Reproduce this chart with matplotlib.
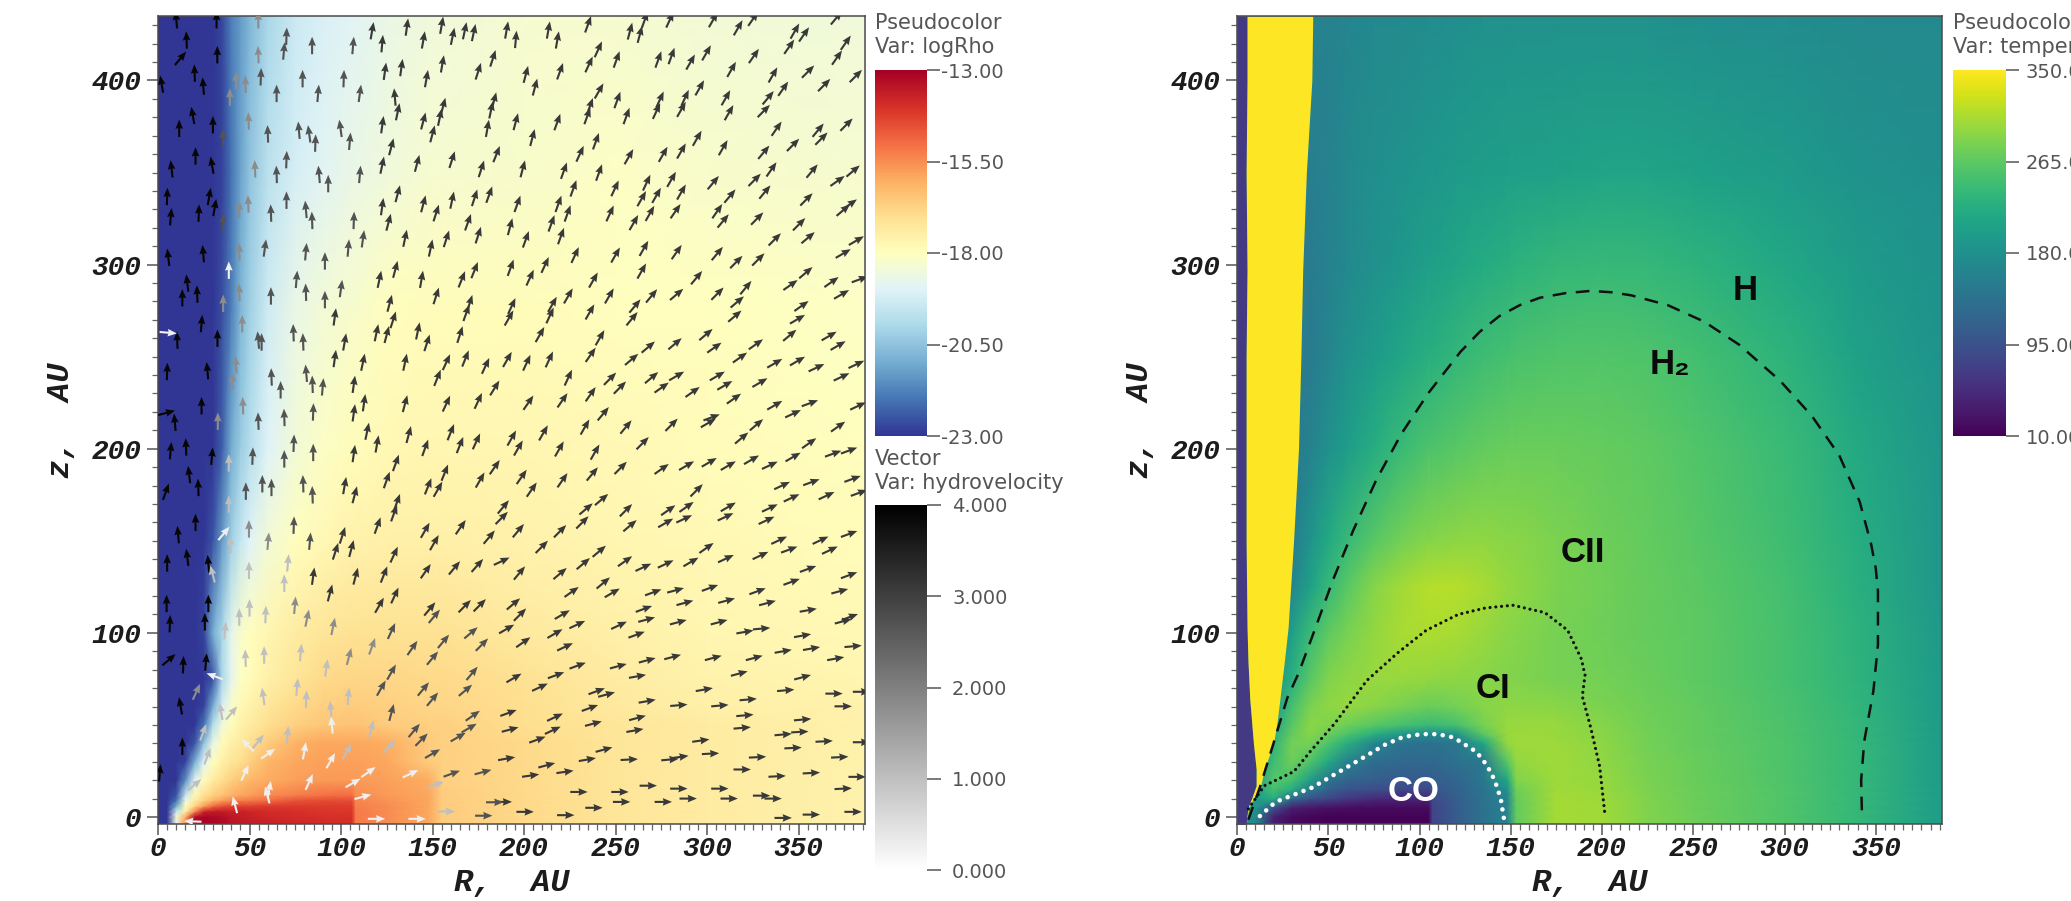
import numpy as np
import matplotlib
matplotlib.use("Agg")
import matplotlib.pyplot as plt
from matplotlib.cm import ScalarMappable
from matplotlib.colors import Normalize
from matplotlib.ticker import MultipleLocator

# ---------- density panel data ----------
rho_R = [0,5,10,15,20,25,30,35,40,45,50,60,75,90,106,108,125,148,155,200,250,300,386]
rho_z = [-4,0,3,6,9,12,20,30,40,50,60,75,100,150,200,275,350,435]
logRho = [
 [-23,-23,-19,-15.5,-13.2,-13.1,-13.1,-13.2,-13.4,-13.5,-13.6,-13.7,-13.8,-13.9,-14,-15.2,-15.5,-15.9,-16.6,-16.9,-17.2,-17.4,-17.6],
 [-23,-23,-18.3,-16,-13.3,-13.1,-13.2,-13.3,-13.5,-13.6,-13.7,-13.8,-13.9,-14,-14,-15.2,-15.5,-15.9,-16.6,-16.9,-17.2,-17.4,-17.6],
 [-23,-23,-19.5,-17.5,-15.5,-13.8,-13.6,-13.6,-13.7,-13.7,-13.8,-13.9,-14,-14.1,-14.1,-15.2,-15.5,-15.9,-16.6,-16.9,-17.2,-17.4,-17.6],
 [-23,-23,-21,-18,-16.8,-15.8,-15,-14.6,-14.4,-14.3,-14.3,-14.2,-14.2,-14.2,-14.2,-15.3,-15.5,-15.9,-16.6,-16.9,-17.2,-17.4,-17.6],
 [-23,-23,-22,-18.6,-17.4,-16.7,-16.2,-15.8,-15.5,-15.3,-15.2,-15,-14.6,-14.5,-14.5,-15.4,-15.6,-15.9,-16.6,-16.9,-17.2,-17.4,-17.6],
 [-23,-23,-22.5,-19.5,-17.8,-17.1,-16.7,-16.4,-16.1,-15.9,-15.8,-15.5,-15.3,-15.1,-15,-15.5,-15.7,-15.9,-16.6,-16.9,-17.2,-17.4,-17.6],
 [-23,-23,-23,-21.5,-19,-17.9,-17.4,-17,-16.7,-16.4,-16.2,-16,-15.8,-15.7,-15.7,-15.7,-15.8,-16,-16.7,-16.9,-17.2,-17.4,-17.6],
 [-23,-23,-23,-22.8,-21,-19,-18,-17.5,-17.2,-17,-16.7,-16.2,-15.9,-15.8,-15.8,-15.8,-15.9,-16.6,-16.7,-16.9,-17.2,-17.4,-17.6],
 [-23,-23,-23,-23,-22.5,-20.5,-18.7,-17.9,-17.5,-17.3,-17,-16.6,-16.1,-15.9,-15.9,-15.9,-16,-16.6,-16.7,-16.9,-17.2,-17.4,-17.6],
 [-23,-23,-23,-23,-23,-22,-19.8,-18.5,-17.9,-17.6,-17.4,-17,-16.7,-16.5,-16.4,-16.4,-16.6,-16.7,-16.7,-17,-17.2,-17.4,-17.6],
 [-23,-23,-23,-23,-23,-22.8,-21,-19.2,-18.2,-17.8,-17.6,-17.2,-16.9,-16.7,-16.6,-16.6,-16.7,-16.8,-16.8,-17,-17.3,-17.5,-17.6],
 [-23,-23,-23,-23,-23,-23,-22.5,-20,-18.8,-18.1,-17.9,-17.5,-17.2,-16.9,-16.8,-16.8,-16.8,-16.9,-16.9,-17.1,-17.4,-17.6,-17.7],
 [-23,-23,-23,-23,-23,-22.8,-21,-20,-18.8,-18.2,-18,-17.7,-17.4,-17.2,-17.1,-17.1,-17.1,-17.1,-17.1,-17.3,-17.5,-17.7,-17.8],
 [-23,-23,-23,-23,-23,-23,-22.5,-21.3,-20.2,-19.5,-19,-18.4,-18,-17.8,-17.6,-17.6,-17.5,-17.5,-17.5,-17.6,-17.7,-17.8,-17.9],
 [-23,-23,-23,-23,-23,-23,-23,-22.3,-21,-20.3,-19.8,-19,-18.4,-18.1,-17.9,-17.9,-17.8,-17.7,-17.7,-17.7,-17.8,-17.9,-18],
 [-23,-23,-23,-23,-23,-23,-23,-22.6,-21.8,-20.8,-20.2,-19.3,-18.7,-18.4,-18.2,-18.2,-18,-17.9,-17.9,-17.9,-18,-18,-18.1],
 [-23,-23,-23,-23,-23,-23,-23,-22.8,-22,-21.2,-20.5,-19.7,-19.2,-18.9,-18.7,-18.7,-18.5,-18.3,-18.3,-18.2,-18.1,-18.2,-18.3],
 [-23,-23,-23,-23,-23,-23,-23,-22.7,-21.8,-21.3,-20.8,-20,-19.4,-19.1,-18.9,-18.9,-18.7,-18.5,-18.5,-18.3,-18.3,-18.4,-18.5],
]

# velocity arrows: (R, z, direction in degrees), grouped by speed
arrows_black = [
 (10,433,95),(15.6,422,92),(12.3,412,50),(32.4,414,90),(20,404,92),(24.7,397,95),(2,398,100),(19,381,100),(11.6,374,90),(30,376,90),
 (20.5,359,90),(7.4,352,97),(29.5,354,100),(5,337,88),(28,337,80),(31,331,80),(7,326,85),(22.3,328,88),(5.6,304,97),(24.7,306,95),
 (16,290,97),(21.4,284,92),(13.3,282,90),(32,433,90),(23.8,268,85),(32.5,260,90),(10.5,259,92),(5,242,88),(27,242.4,95),(23.8,223.4,90),
 (9.2,214.4,95),(4.7,219.5,15),(6.9,199,85),(15.3,201,92),(29.5,196,85),(17,186,97),(22,179,92),(4.3,176.6,70),(20.5,160,90),(11,153.4,95),
 (16,141,97),(5,138,90),(27.5,137.6,95),(4.7,116,90),(27.5,116,90),(25.6,106,90),(6.5,105,88),(6,85.4,40),(13.8,82.7,88),(26.2,84.2,85),
 (12.3,60.4,100),(13.3,38.4,90),(1,24,85),
]
arrows_dark = [
 (117,427,80),(136,429,82),(155,430,80),(167.6,427,78),(161,424,78),(172.5,426,78),(145,422,80),(122.5,420,85),(124,405,82),(133,407,82),
 (146.7,401,80),(155.4,409,80),(175,405,72),(183,412,72),(129.4,391,95),(131,383,78),(122.6,376,82),(145,378,75),(183.6,389,75),(182,384,78),
 (155.8,386,75),(154,380,78),(150,371,75),(180,374,80),(127.5,364,75),(122.5,354,78),(141.6,355,75),(160.7,357,72),(176.7,352,72),(185,360,68),
 (131,338.5,75),(122.5,331.5,82),(145,333,75),(152,328,72),(160.7,335,78),(173,336.3,72),(181,338,70),(126,323,75),(169.4,323,70),(175,316,72),
 (135,314.3,78),(149,309,78),(157.6,314,72),(121,292,78),(129.7,297.4,75),(144,292,80),(166,292,68),(173,297,68),(152,283,72),(126.6,279,75),
 (170.3,279,72),(96.6,271.6,82),(128.5,270,72),(125,262,75),(119.4,263,78),(142,264,78),(147,257.5,72),(102,258,80),(96.6,249,82),(112,247,78),
 (135,247,78),(107,235,82),(157.6,247,65),(152.7,238.5,68),(168,249,68),(179,245,65),(168.5,273.8,70),(165,262,72),(184,233,58),(175,226,65),
 (157.6,224.5,65),(135,224.5,75),(112.6,225,82),(107,219.5,82),(114.3,209.5,78),(119.7,202.6,80),(137,207.7,75),(160,209,68),(165,202,68),(174,204,65),
 (146,200.5,70),(107,197.4,82),(130,192.3,70),(125,183,70),(102,180,80),(107.5,175,75),(147.6,179.6,68),(156.7,187,68),(153,178,60),(176,183,60),
 (184,190,55),(130.6,171,70),(129,165,70),(120,158.3,70),(146,155.7,60),(151,149,60),(165.4,157.4,55),(181,152,50),(100.8,153,72),(97,144.3,72),
 (105.7,145.8,75),(129,142.5,65),(123.5,131.7,68),(108,130.8,75),(84.8,130.8,82),(146.3,133.5,55),(162,135.3,50),(174.5,136.6,48),(94,121.7,75),(129.4,120.3,65),
 (121,115,60),(148.5,113,50),(167.6,114.5,45),(175.8,115,45),
 (190.5,427.4,80),(195.5,422.3,85),(213.3,427.4,80),(218.2,422,80),(235,430.5,70),(257.9,426.8,75),(263.3,425,75),(266,433,70),(279.7,433,65),(303.4,433,60),
 (317,428.6,60),(325.2,433.5,55),(348,426.8,60),(353,425,55),(370.7,434,50),(344.9,418.3,55),(375.8,420.5,55),(371,412.4,55),(240.6,416.9,65),(235.5,408.7,65),
 (250.6,411.4,70),(273.4,411.4,70),(280.6,413.3,70),(291,410,60),(299.7,415,60),(313.4,406,60),(325.6,413.3,55),(201,403.3,75),(206,396.4,75),(219.7,405,70),
 (336,403,60),(355.2,404.8,45),(364,397.5,45),(381.3,402.4,45),(241,394.3,60),(236,386,70),(251,389.4,70),(274.3,389.7,65),(288,390.6,65),(296,396,60),
 (310.3,390.6,60),(333.4,390.6,50),(341.6,395.5,55),(234.6,380.7,70),(195.5,377.6,75),(218.2,377.4,70),(256,380.7,70),(272.4,383.4,65),(286,384.3,60),(312,382.5,60),
 (331,383.4,45),(204.6,369,75),(239.3,367,70),(230.6,360.2,65),(257.3,358.6,60),(276,359.9,60),(286,361.7,60),(294.6,368.6,60),(338,373.8,55),(360.7,373,50),
 (362.5,368.4,45),(376.2,376,45),(347,365,45),(331,361,50),(308.8,363.5,60),(199.3,352,75),(221.8,351,70),(241,350,70),(249.7,341.4,65),(227,341.4,70),
 (267,344.5,65),(280.6,346.3,60),(272.4,337.6,60),(264.3,335.8,60),(286,339.4,60),(303.4,344.5,50),(326,346,45),(335.2,351.7,55),(357.4,350.8,50),(371.3,345.4,35),
 (379.8,350.8,40),(312.5,337.2,50),(331.6,339.4,50),(354.3,335.4,45),(196.4,333,70),(218.8,333,70),(223.8,327.8,70),(215,322.4,70),(192.4,320.6,75),(247,327.8,65),
 (268.8,327.8,60),(282.8,329,55),(260,322.8,60),(305.6,329,55),(308.8,323.7,50),(327.4,325,45),(374.4,329.5,40),(378,332.7,35),(350.3,321.9,45),(355.2,314.6,40),
 (337,313.7,45),(220.2,315.5,70),(201,313.7,70),(227.9,305.2,65),(250,305.2,60),(265.5,308.8,60),(283.4,306.8,55),(305.6,306,50),(316,301.4,45),(328,302.8,45),
 (374.4,306,30),(381.6,313,30),(192.7,298.3,70),(203.3,292.9,65),(211.5,299.8,65),(264.3,296.5,60),(237.9,291.6,60),(294.3,292.9,50),(321.2,287.5,50),(354,295.6,40),
 (345.6,288.9,35),(368,290.5,35),(383.5,292,20),(373.5,283.8,30),(283.4,283.8,40),(269.7,283,50),(305.7,284.2,45),(246.6,283,60),(224.2,283,60),(260.6,277.5,50),
 (215.5,278.4,60),(193.3,277.5,65),(191.8,271,60),(214.2,272.4,65),(236,274.3,60),(259,270.6,50),(316.5,279.7,40),(315.2,272,40),(351.6,277.5,35),(349.4,270.3,30),
 (208.7,262,60),(241.5,260.3,60),(299.4,262,40),(236.4,251,55),(345.2,261.6,40),(366.7,261.2,30),(371.6,256,30),(282.5,257,40),(304,254.9,35),(267.9,255.2,40),
 (258.8,248.5,40),(318,249.5,35),(326.7,256.7,35),(190.9,248.5,60),(201.5,246.7,65),(213.8,248.5,65),(337,246.4,30),(349.4,247.6,30),(359.8,244,25),(381.6,245.8,25),
 (373.5,239,25),(224.2,238.6,65),(247,238,45),(252.4,233.2,45),(269.7,238.6,40),(275.2,233.2,35),(283.4,239.5,30),(305.6,239.5,30),(309.7,234.4,30),(292.1,230.8,35),
 (328.9,235.9,30),(202.4,225,55),(221,226.3,55),(236.4,229.6,55),(314.7,227.2,35),(337,223.6,30),(356.2,224.7,20),(382.5,223.2,25),(347,219,25),(243.3,219,50),
 (302.5,217,20),
 (193.3,205.8,60),(196.9,200.4,60),(210.6,208.6,60),(233.3,211.8,60),(255.7,211.8,50),(280.6,213,45),(300.7,214,30),(327,213,40),(318.9,205.8,40),(371.6,212,35),
 (264.8,203,45),(219.3,199.9,60),(238.8,198.2,60),(355.8,203,35),(347,195.5,30),(334.3,191,25),(324.3,194,30),(311.6,190.8,30),(301.2,192.6,30),(288.8,190.8,30),
 (275.2,189,35),(252.8,189.6,45),(237.3,186.3,50),(221,182.9,55),(198.7,184.7,55),(204.2,177.8,55),(368.9,197.3,20),(377.6,199,20),(379.5,183.6,20),(357,181.8,20),
 (341,180,25),(346.2,173.3,25),(365.3,174.5,25),(383,176,20),(294.3,177.4,45),(242.4,172.4,40),(233.9,167.3,40),(255.7,166.6,45),(278.8,166.6,35),(288.8,168.4,35),
 (311.6,168.4,30),(334.3,167.8,25),(188.7,168.4,50),(187.8,162.4,45),(231.9,160,45),(257.9,158.2,40),(277.4,159.7,30),(287.5,161.9,25),(310.1,163,25),(332.5,161.1,25),
 (196.9,155.5,50),(219.7,155.2,45),(209.7,146.7,45),(339.4,150.3,25),(362,150.3,25),(377.6,153.7,20),(344.9,145.2,20),(367.1,144.9,25),(299.7,146.1,35),(241.1,144.3,40),
 (232.4,137.6,40),(255.2,138.9,35),(265.2,135.6,25),(277.4,137.4,25),(291.2,138.5,30),(310.3,140.3,25),(329.2,142,25),(187.8,138.9,25),(197.5,132.5,50),(219.7,132.2,40),
 (355.2,134.7,20),(346.2,127.7,20),(377.6,131.3,20),(372.5,122.6,15),(243.3,127.1,40),(226,122.2,35),(248.2,121.7,30),(270.6,122,20),(282.8,123.1,15),(301.6,124.4,20),
 (327.6,122.6,20),(310.7,117.5,15),(333,116.2,15),(287.9,116.3,15),(265.5,113,20),(194.2,115.7,40),(197.8,109.9,45),(220.9,109.9,30),(355.3,112.3,10),(378,108.6,20),
 (374.4,106.3,15),(267,107.2,15),(229.1,104.5,25),(216.9,99.6,30),(251.9,104.1,25),(284.3,105.8,15),(306.6,105.8,15),(320.7,100.5,10),(329.8,102.3,5),(190.5,102.1,30),
 (261.5,99,20),(222.4,92.4,25),(199.6,94.9,35),(352.2,98.5,10),(379.8,92.7,5),(357.1,91.5,10),(341.6,90,10),(370.3,86,10),(325.8,86.4,15),(303.4,86.4,15),
 (281.2,86.9,15),(267.3,85.1,15),(251.5,81.9,15),(229.3,82.2,20),(217.5,77,20),(194.5,75.5,30),(262,76.4,10),(317.6,77.9,15),(352.2,75.9,15),(208.7,70.5,25),
 (298.5,69.2,10),(343,68.8,5),(369.4,67,0),(384.4,68,0),(239.7,68.3,20),(245.1,66.5,15),(267.3,62.9,10),(284.6,60.7,5),(307,60.5,5),(322.5,63.8,5),
 (374.4,60.1,0),(236,59.2,20),(191.5,56.5,20),(216.9,54.2,25),(262,53.8,15),(320.7,55.2,5),(352.2,52.9,5),(192.4,47.5,15),(237.9,50.7,15),(260.6,47,10),
 (215.7,47.1,25),(207.3,42,20),(319.2,48.4,5),(341.6,44.8,5),(350.7,46.2,3),(296.6,41.5,8),(364,41.1,3),(384.4,40.6,0),(347,37.5,3),(243.7,36.6,15),
 (234.6,31.2,10),(190.5,31.7,10),(257.5,31.2,3),(279.7,31.2,5),(285.2,32.6,8),(301.9,34.4,3),(327.6,32.5,3),(372.5,32.5,3),(212.4,28.1,15),(222.4,24.5,8),
 (203.6,22.5,8),(319.2,25.8,0),(338.3,22.1,3),(357,23.9,3),(382,21.8,0),(267.9,17,0),(230,13.6,0),(252.4,13.6,0),(284.6,15.4,0),(307,15.4,0),
 (329.8,11.6,0),(336.1,10,0),(374.4,15.4,3),(253.3,8.2,0),(276.1,8.2,0),(289.7,10,0),(312.1,10,0),(188.7,8.2,0),(200.6,2.8,0),(222.8,1,0),
 (238.2,5,0),(341.6,-0.5,0),(357,1.3,0),(379.8,2.8,0),
]
arrows_middark = [
 (35.6,369,90),(35.6,323,90),(70.2,424,88),(68.8,416,85),(84.2,419,90),(106.6,419,85),(56.2,402,88),(64.8,393,90),(79,401,90),(101.5,401,88),
 (87.5,393,85),(110.3,393,82),(60,371,92),(77,373,95),(82.6,371,98),(86,366,88),(99.7,374,98),(104.8,367,85),(70.2,357,88),(64.8,349,92),
 (88,349,95),(93,344,90),(110.3,349,85),(70.2,335,90),(61.7,328,92),(80.8,330,95),(84.2,324,92),(107,324,88),(58.4,309,82),(80.8,307,85),
 (91.2,302,90),(104,309,85),(112,314,82),(75.7,292,85),(80.8,285,92),(100,287,82),(91.2,281,90),(61.7,283,90),
 (54.8,259,95),(56.6,258,90),(74,263,92),(79.3,258,92),(62,239,92),(67,232,90),(81,241,95),(84.4,235,92),(90,233.6,85),(54.8,215,92),
 (69,217,92),(84.8,220,88),(74.2,203,88),(84.8,198,90),(69,194.5,90),(51.7,196,88),(48,177,90),(57,181,90),(62,179,90),(79.3,181,92),
 (84.4,175,92),(74.2,158.5,88),(83,149.8,85),(127.6,56.8,75),(140,47,50),(144,42,45),(150,34.4,30),(160.5,23.5,20),(177.6,24.4,15),(178,0.7,0),
 (184,8,0),(127.6,101,65),(139,91.8,55),(150,86.3,50),(156,95.4,50),(177,93.6,45),(171,100,40),(127.6,78.7,60),(122,70,60),(145,69.5,50),
 (150,64,50),(171.6,78,50),(168,68.8,40),(172,55,35),(170,48.3,30),(164,43.4,30),(151,109,50),
]
arrows_gray = [
 (42.6,400,90),(47.8,398,92),(39.3,391,90),(49.5,378,92),(53,352,92),(44.4,330,90),(49.3,333,92),(44.4,307,92),(44.4,285,92),(35.6,279,90),
 (54.8,433,90),(54.8,414,92),(42.6,245.7,95),(40.7,236.7,90),(46,268,90),(46.4,223.4,92),(32.7,215,90),(49.7,156.5,90),(60.2,149.8,85),(74.8,115,85),
 (21,68,65),(104.4,87.2,75),(117,92.7,70),(81.5,108,78),(95.7,103.5,78),
]
arrows_light = [
 (49.7,134,90),(71,138,85),(69,127,90),(50,113.6,90),(29.8,132,105),(38.7,192.3,90),(38.7,170,90),(39.6,148,92),(44.4,108.6,90),(58.8,110,88),
 (47.8,86.3,92),(58,88,90),(78,89.4,85),(92,81,82),(57.5,65.5,98),(76,70.6,85),(81,64,88),(104,65.5,85),(94.4,58.3,95),(70.8,44.7,85),
 (54.8,41,50),(103.3,35.6,60),(116.6,48,75),(126.6,38.4,45),(36.6,101.3,85),(34.4,57.4,100),(40.2,56.5,50),(24.7,46,70),(27,33,70),(20,17.5,40),
 (151.6,17.5,20),(157.6,3,0),
]
arrows_white = [
 (38.7,297,90),(5.6,263,-5),(36,154,50),(31,76.4,160),(19,-2.4,178),(95,50,95),(49,39,135),(60.2,34.4,35),(80,36,80),(94.4,30.6,60),
 (47.5,24,65),(82.6,19,65),(60.8,15,80),(59.7,12,105),(42,6.7,105),(106.6,18.5,30),(115,24.4,35),(112,11,15),(138,23.5,25),(119.4,-1,0),
 (141.6,-1,0),
]
speed_levels = [3.9, 3.1, 2.7, 1.8, 1.0, 0.25]

# ---------- temperature panel data ----------
temp_R = [0,10,20,30,40,50,60,75,90,105,107,120,135,148,153,175,200,225,250,300,340,386]
temp_z = [-4,0,5,10,15,20,30,40,45,50,60,75,100,125,150,200,250,300,350,435]
temperature = [
 [170,170,40,20,15,12,12,12,12,12,80,108,138,160,268,304,302,286,275,256,236,198],
 [170,170,40,20,15,12,12,12,12,12,80,108,138,160,268,304,302,286,275,256,236,198],
 [190,190,100,40,30,25,22,20,20,20,80,108,138,160,268,304,302,285,274,256,236,198],
 [200,200,220,130,95,80,65,50,45,45,85,110,140,165,270,304,300,284,274,256,236,198],
 [200,200,250,220,150,115,100,90,85,85,100,115,140,180,275,302,298,283,273,256,236,198],
 [190,190,260,250,200,140,120,110,105,105,110,120,145,210,285,300,296,282,272,255,236,197],
 [180,180,245,275,255,215,160,130,125,125,125,135,145,260,295,302,294,280,272,255,236,197],
 [170,170,230,278,278,255,225,165,140,135,135,145,210,296,300,300,292,278,270,255,236,197],
 [168,168,220,270,288,272,255,225,190,170,170,185,262,298,300,298,290,277,270,254,235,196],
 [165,165,210,262,290,285,275,262,250,240,240,250,280,298,298,297,288,276,270,254,235,196],
 [160,160,195,248,282,292,296,290,280,272,272,278,288,292,292,290,283,275,268,252,232,195],
 [150,150,180,225,262,285,292,298,298,295,294,292,290,286,285,280,278,272,266,250,230,195],
 [150,150,160,200,240,265,280,295,305,308,308,305,297,290,288,280,275,270,265,250,228,192],
 [150,150,145,165,205,238,262,288,303,312,312,312,305,296,293,283,276,270,264,248,225,190],
 [150,150,150,150,185,215,238,262,278,288,288,292,293,290,289,283,275,268,262,245,222,190],
 [150,150,150,150,160,180,198,222,240,255,255,262,268,272,272,272,270,265,258,240,215,188],
 [150,150,150,150,150,165,180,195,210,225,225,235,245,250,252,257,258,255,248,230,205,185],
 [150,150,150,150,150,160,170,180,190,200,200,210,218,225,228,235,238,236,230,212,195,182],
 [150,150,150,150,155,160,170,178,185,190,190,195,198,200,200,205,208,208,205,195,185,178],
 [160,160,160,160,160,160,165,170,172,175,175,178,180,180,180,180,180,180,178,175,172,170],
]
jet_z = [-4,5,10,17,26,40,52,64,85,103,150,200,250,297,350,400,435]
jet_inner = [5,6,8,10.5,10.5,9,8,7,6,5.5,5,5,5,5.5,5,5.5,5.5]
jet_outer = [5,6.5,9,13,15,20,22,23.5,26,28,31,33.7,35,36,38,41,41.5]
strip_T = 68
jet_T = 350

h2_R = [6.2,12.5,20,27.5,33.7,42.5,52.5,63.7,76.2,90,105,122.5,133,143.7,155,166,180,193.7,205,216,236,256,275,297.5,315,330,341.2,347.5,350,351.2,351.2,348.7,343.7,342,342.5]
h2_z = [-1.5,16,40,64.5,78,101.4,128.5,155.7,182.8,208,230.4,252.7,263.5,272,278,282,284.5,285.7,285,283.3,278,269,256.6,237,217.8,196.4,171.2,148,135,122.7,93.6,68.4,41.2,20,-1.5]
ci_R = [6.2,15,31.2,40,53.7,71.2,88.7,103.7,121.2,136,151.2,168.7,181.2,188.7,190.7,189.2,193.7,198.7,201.7]
ci_z = [4.4,17,24.7,35.4,51,74.2,89.7,101.4,110,113.5,115,111,101.4,85.8,77,65.5,49,27.6,0.5]
co_R = [12.5,21.2,41.2,61.2,81.2,91,101.2,110,118.7,131.2,137,141.2,144.5,146.2]
co_z = [0.5,8.2,16,27.6,39.3,43.5,45,45,43.2,35.4,28,20,10,-0.5]

region_labels = ["CO", "CI", "CII", "H₂", "H"]
region_R = [97, 140, 189.6, 237, 278.5]
region_z = [13.6, 70, 143.5, 246, 286]

rho_ticks = [-23, -20.5, -18, -15.5, -13]
rho_ticklabels = ["-23.00", "-20.50", "-18.00", "-15.50", "-13.00"]
speed_ticks = [0, 1, 2, 3, 4]
speed_ticklabels = ["0.000", "1.000", "2.000", "3.000", "4.000"]
temp_ticks = [10, 95, 180, 265, 350]
temp_ticklabels = ["10.00", "95.00", "180.00", "265.00", "350.00"]

# ---------- layout ----------
W, H = 2071, 901
fig = plt.figure(figsize=(W / 100, H / 100), dpi=100, facecolor="white")
def box(x0, y0, x1, y1):
    return [x0 / W, 1 - y1 / H, (x1 - x0) / W, (y1 - y0) / H]

TICKFONT = dict(family="Liberation Mono", weight="bold", style="italic")
TXT = "#555555"
LEG = "DejaVu Sans"

def style_axes(ax):
    ax.set_xlim(0, 386.3)
    ax.set_ylim(-3.8, 435)
    ax.xaxis.set_major_locator(MultipleLocator(50))
    ax.xaxis.set_minor_locator(MultipleLocator(5))
    ax.yaxis.set_major_locator(MultipleLocator(100))
    ax.yaxis.set_minor_locator(MultipleLocator(10))
    ax.tick_params(which="major", length=8, width=1.1, color="#555555")
    ax.tick_params(which="minor", length=4, width=0.9, color="#666666")
    ax.tick_params(axis="x", which="major", pad=1)
    ax.tick_params(axis="y", which="major", pad=4)
    for lab in ax.get_xticklabels() + ax.get_yticklabels():
        lab.set(fontsize=20, color="#1c1c1c", **TICKFONT)
    for s in ax.spines.values():
        s.set(color="#4a4a4a", linewidth=1.1)
    ax.set_xlabel("R,  AU", fontsize=23, color="#1c1c1c", labelpad=4, **TICKFONT)
    ax.set_ylabel("z,  AU", fontsize=23, color="#1c1c1c", labelpad=11, **TICKFONT)

def legend_bar(bar_box, mappable, ticks, labels, pad, ticklen=9):
    cax = fig.add_axes(box(*bar_box))
    cb = fig.colorbar(mappable, cax=cax, ticks=ticks)
    cb.outline.set_visible(False)
    cb.minorticks_off()
    cax.set_yticklabels(labels)
    cax.tick_params(length=ticklen, width=1.1, color=TXT, labelcolor=TXT, labelsize=14, pad=pad)
    for lab in cax.get_yticklabels():
        lab.set_family(LEG)
    return cb

# ---------- left panel ----------
axL = fig.add_axes(box(158, 16, 865, 824))
rho_norm = Normalize(-23, -13)
meshL = axL.pcolormesh(rho_R, rho_z, np.array(logRho), shading="gouraud", cmap="RdYlBu_r", norm=rho_norm)

groups = [arrows_black, arrows_dark, arrows_middark, arrows_gray, arrows_light, arrows_white]
speed_norm = Normalize(0, 4)
ARROW_LEN = 9.5
for grp, sp in zip(groups, speed_levels):
    a = np.array(grp, dtype=float)
    th = np.deg2rad(a[:, 2])
    axL.quiver(a[:, 0], a[:, 1], ARROW_LEN * np.cos(th), ARROW_LEN * np.sin(th),
               np.full(len(a), sp), cmap="gray_r", norm=speed_norm,
               angles="xy", scale_units="xy", scale=1, units="xy", width=1.15,
               headwidth=3.6, headlength=4.4, headaxislength=4.0, pivot="mid", zorder=3)
style_axes(axL)

fig.text(875 / W, 1 - 23 / H, "Pseudocolor", fontsize=15, color=TXT, family=LEG, va="center")
fig.text(875 / W, 1 - 47 / H, "Var: logRho", fontsize=15, color=TXT, family=LEG, va="center")
legend_bar((875, 70, 927, 436), meshL, rho_ticks, rho_ticklabels, 1, 9)
fig.text(875 / W, 1 - 459 / H, "Vector", fontsize=15, color=TXT, family=LEG, va="center")
fig.text(875 / W, 1 - 483 / H, "Var: hydrovelocity", fontsize=15, color=TXT, family=LEG, va="center")
legend_bar((875, 505, 927, 870), ScalarMappable(speed_norm, "gray_r"), speed_ticks, speed_ticklabels, 8, 10)

# ---------- right panel ----------
axR = fig.add_axes(box(1237, 16, 1942, 824))
temp_norm = Normalize(10, 350)
meshR = axR.pcolormesh(temp_R, temp_z, np.array(temperature), shading="gouraud", cmap="viridis", norm=temp_norm)
vir = plt.get_cmap("viridis")
axR.fill_betweenx(jet_z, 0, jet_inner, color=vir(temp_norm(strip_T)), lw=0, zorder=2)
axR.fill_betweenx(jet_z, jet_inner, jet_outer, color=vir(temp_norm(jet_T)), lw=0, zorder=2)
axR.plot(h2_R, h2_z, color="#111111", lw=1.8, linestyle=(0, (5.5, 3.8)), zorder=3)
axR.plot(ci_R, ci_z, color="#111111", lw=2.3, linestyle=(0, (0.01, 1.8)), dash_capstyle="round", zorder=3)
axR.plot(co_R, co_z, color="white", lw=3.3, linestyle=(0, (0.01, 1.85)), dash_capstyle="round", zorder=3)
for lab, r, z in zip(region_labels, region_R, region_z):
    axR.text(r, z, lab, fontsize=25, fontweight="bold", ha="center", va="center",
             color="white" if lab == "CO" else "#0a0a0a",
             family=["Liberation Sans", "DejaVu Sans"], zorder=4)
style_axes(axR)

fig.text(1953 / W, 1 - 23 / H, "Pseudocolor", fontsize=15, color=TXT, family=LEG, va="center")
fig.text(1953 / W, 1 - 47 / H, "Var: temperature", fontsize=15, color=TXT, family=LEG, va="center")
legend_bar((1953, 70, 2006, 436), meshR, temp_ticks, temp_ticklabels, 5, 9)

fig.savefig("out.png", dpi=100)
